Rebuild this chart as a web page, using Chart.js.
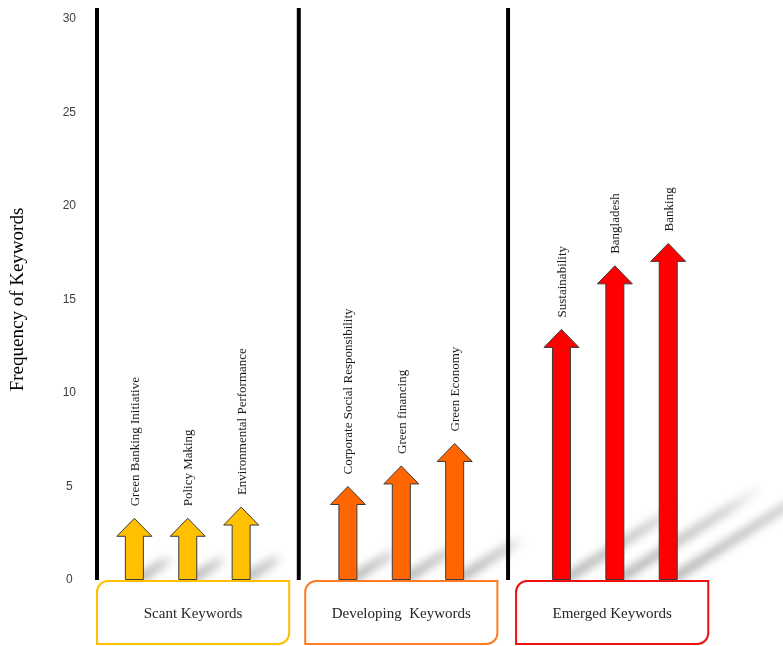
<!DOCTYPE html>
<html>
<head>
<meta charset="utf-8">
<script src="https://cdn.jsdelivr.net/npm/chart.js@4.4.1/dist/chart.umd.min.js"></script>
<style>
  html, body { margin: 0; padding: 0; background: #fff; }
  #wrap { width: 783px; height: 646px; position: relative; }
</style>
</head>
<body>
<div id="wrap"><canvas id="chart"></canvas></div>
<script>
'use strict';

// keyword arrows
const keywords    = ['Green Banking Initiative', 'Policy Making', 'Environmental Performance',
                     'Corporate Social Responsibility', 'Green financing', 'Green Economy',
                     'Sustainability', 'Bangladesh', 'Banking'];
const slots       = [0, 1, 2, 4, 5, 6, 8, 9, 10];
const frequencies = [3.3, 3.3, 3.9, 5.0, 6.1, 7.3, 13.4, 16.8, 18.0];
const groupOf     = [0, 0, 0, 1, 1, 1, 2, 2, 2];

// the three keyword groups
const groupNames   = ['Scant Keywords', 'Developing  Keywords', 'Emerged Keywords'];
const groupCenters = [1.1, 5, 8.95];
const dividers     = [3.08, 7];

const ARROW_COLORS = ['#FFC000', '#FF6600', '#FF0000'];
const BOX_COLORS   = ['#FFC000', '#FF7A22', '#F01010'];
const SERIF = '"Liberation Serif", "Times New Roman", serif';

const keywordArt = {
  id: 'keywordArt',
  beforeDatasetsDraw(chart) {
    const { ctx, chartArea: ca, scales: { x } } = chart;
    const meta = chart.getDatasetMeta(0);

    // soft cast shadows behind each arrow
    meta.data.forEach(el => {
      const len = Math.max(30, (el.base - el.y) * 0.45);
      const x0 = el.x + 8, y0 = el.base - 3;
      const x1 = x0 + len, y1 = y0 - len * 0.64;
      ctx.save();
      ctx.filter = 'blur(4px)';
      const g = ctx.createLinearGradient(x0, y0, x1, y1);
      g.addColorStop(0, 'rgba(0,0,0,0.32)');
      g.addColorStop(0.7, 'rgba(0,0,0,0.2)');
      g.addColorStop(1, 'rgba(0,0,0,0)');
      ctx.strokeStyle = g;
      ctx.lineWidth = 9;
      ctx.lineCap = 'round';
      ctx.beginPath();
      ctx.moveTo(x0, y0);
      ctx.lineTo(x1, y1);
      ctx.stroke();
      ctx.restore();
    });

    // axis line and group dividers
    ctx.save();
    ctx.strokeStyle = '#000';
    ctx.lineWidth = 4;
    [ca.left].concat(dividers.map(d => x.getPixelForValue(d))).forEach(px => {
      ctx.beginPath();
      ctx.moveTo(px, ca.top - 11);
      ctx.lineTo(px, ca.bottom);
      ctx.stroke();
    });
    ctx.restore();
  },
  afterDatasetsDraw(chart) {
    const { ctx, chartArea: ca, scales: { x } } = chart;
    const meta = chart.getDatasetMeta(0);
    const headH = 18, headW = 17.5, shaftW = 9;

    meta.data.forEach((el, i) => {
      const cx = el.x, tip = el.y, base = el.base;
      ctx.save();
      ctx.beginPath();
      ctx.moveTo(cx - shaftW, base);
      ctx.lineTo(cx - shaftW, tip + headH);
      ctx.lineTo(cx - headW, tip + headH);
      ctx.lineTo(cx, tip);
      ctx.lineTo(cx + headW, tip + headH);
      ctx.lineTo(cx + shaftW, tip + headH);
      ctx.lineTo(cx + shaftW, base);
      ctx.closePath();
      ctx.fillStyle = ARROW_COLORS[groupOf[i]];
      ctx.fill();
      ctx.strokeStyle = '#3a3a3a';
      ctx.lineWidth = 1;
      ctx.stroke();
      ctx.restore();

      // rotated keyword above the arrow
      ctx.save();
      ctx.translate(cx + 1, tip - 12);
      ctx.rotate(-Math.PI / 2);
      ctx.font = '13px ' + SERIF;
      ctx.fillStyle = '#1a1a1a';
      ctx.textAlign = 'left';
      ctx.textBaseline = 'middle';
      ctx.fillText(keywords[i], 0, 0);
      ctx.restore();
    });

    // group boxes under the axis
    const unit = x.getPixelForValue(1) - x.getPixelForValue(0);
    groupNames.forEach((name, g) => {
      const c = x.getPixelForValue(groupCenters[g]);
      const half = unit * 1.8;
      const top = ca.bottom + 1, bottom = 644;
      ctx.save();
      ctx.beginPath();
      ctx.roundRect(c - half, top, half * 2, bottom - top, [11, 0, 11, 0]);
      ctx.fillStyle = '#fff';
      ctx.fill();
      ctx.strokeStyle = BOX_COLORS[g];
      ctx.lineWidth = 2;
      ctx.stroke();
      ctx.font = '15px ' + SERIF;
      ctx.fillStyle = '#262626';
      ctx.textAlign = 'center';
      ctx.textBaseline = 'middle';
      ctx.fillText(name, c, (top + bottom) / 2 + 2);
      ctx.restore();
    });
  }
};

new Chart(document.getElementById('chart'), {
  type: 'bar',
  data: {
    datasets: [{
      label: 'Frequency',
      data: slots.map((s, i) => ({ x: s, y: frequencies[i] })),
      backgroundColor: 'rgba(0,0,0,0)',
      borderWidth: 0,
      barThickness: 18,
    }]
  },
  options: {
    responsive: true,
    maintainAspectRatio: false,
    animation: false,
    layout: { padding: { top: 19, bottom: 66, left: 0, right: 0 } },
    plugins: { legend: { display: false }, tooltip: { enabled: false } },
    scales: {
      x: { type: 'linear', display: false, offset: false, min: -0.7, max: 12.15 },
      y: {
        min: 0, max: 30,
        // invisible tick marks only push the labels away from the axis
        grid: { display: true, drawOnChartArea: false, drawTicks: true, tickLength: 21, color: 'rgba(0,0,0,0)' },
        border: { display: false },
        ticks: {
          stepSize: 5, padding: 0, crossAlign: 'center',
          color: '#404040',
          font: { family: '"Liberation Sans", Arial, sans-serif', size: 12 },
        },
        title: {
          display: true,
          text: 'Frequency of Keywords',
          color: '#000',
          font: { family: SERIF, size: 19 },
          padding: { top: 7, bottom: 0 },
        },
        afterFit(s) { s.width = 97; },
      }
    }
  },
  plugins: [keywordArt]
});
</script>
</body>
</html>
